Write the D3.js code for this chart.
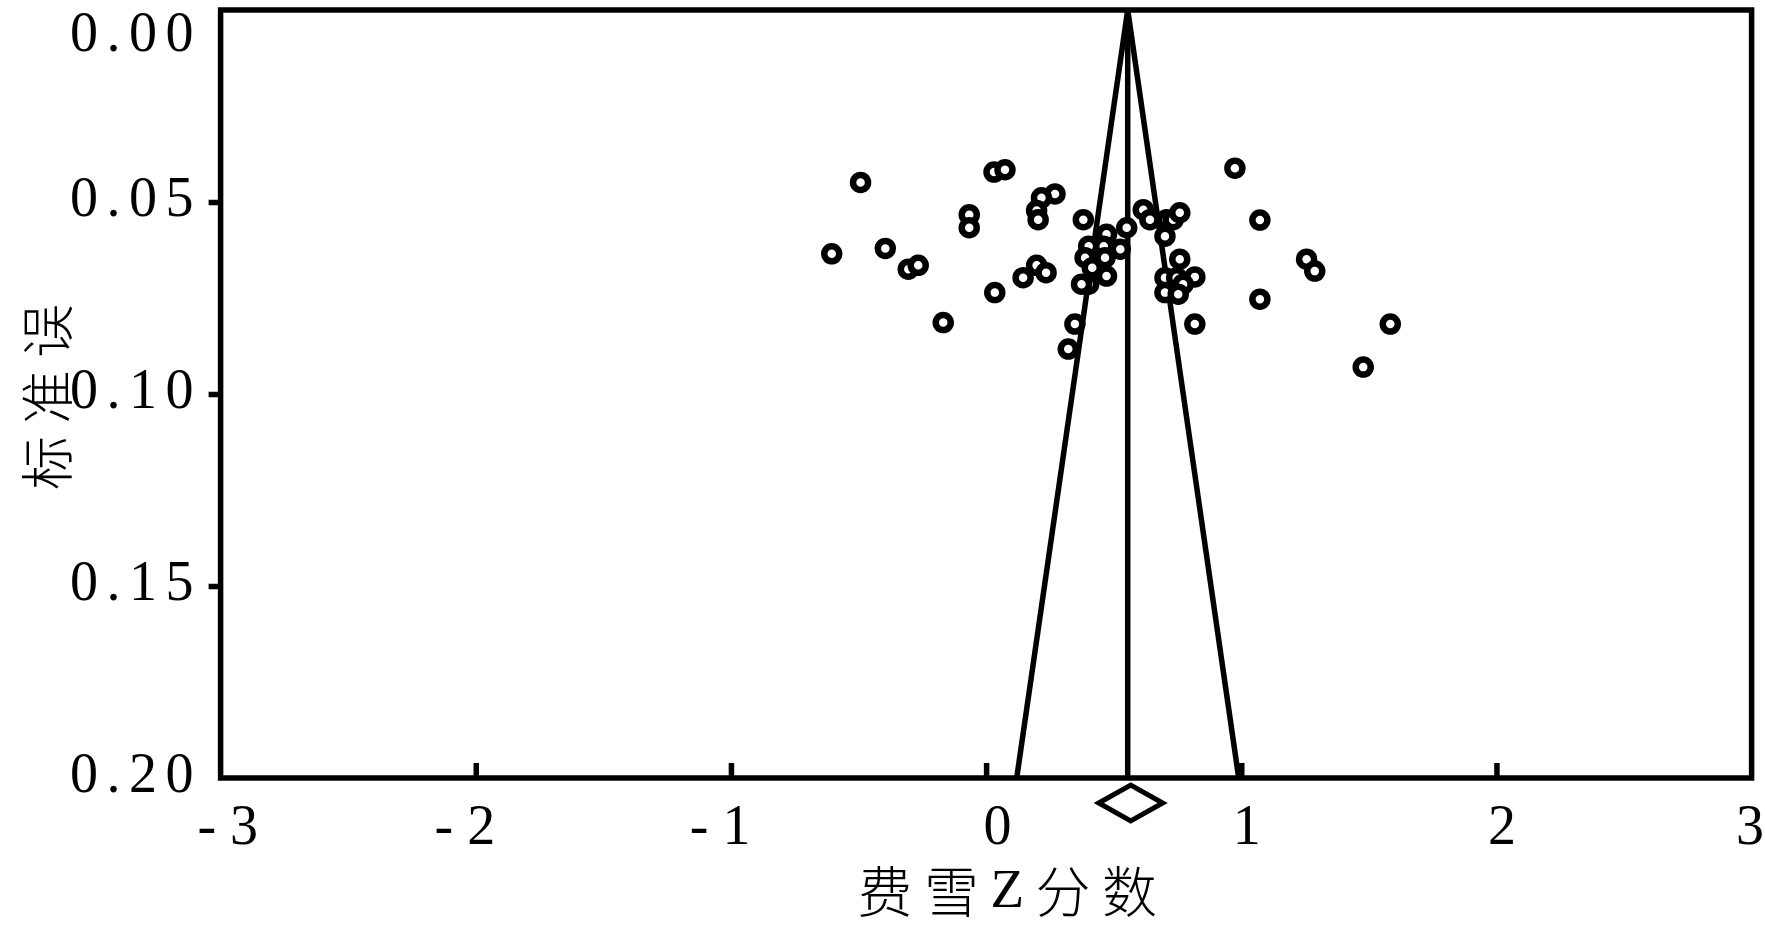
<!DOCTYPE html>
<html>
<head>
<meta charset="utf-8">
<script src="https://cdn.jsdelivr.net/npm/d3@7"></script>
<style>
  html, body { margin: 0; padding: 0; background: #fff; }
  svg { display: block; }
</style>
</head>
<body>
<svg id="chart" width="1765" height="927"></svg>
<script>
// ---------- data ----------
const xTicks = [-3, -2, -1, 0, 1, 2, 3];
const xTickLabels = ["- 3", "- 2", "- 1", "0", "1", "2", "3"];
const yTicks = [0, 0.05, 0.10, 0.15, 0.20];
const yTickLabels = ["0.00", "0.05", "0.10", "0.15", "0.20"];
const xTitle = ["费雪", "Z", "分数"];
const yTitle = "标准误";

// Fisher Z effect sizes and standard errors
const effect = [
  -0.605, -0.492, -0.395, -0.305, -0.266, -0.168, -0.066, -0.066, 0.031, 0.074,
   0.034,  0.145,  0.198,  0.235,  0.270,  0.217,  0.198,  0.204, 0.381, 0.472,
   0.402,  0.461,  0.526,  0.388,  0.466,  0.416,  0.472,  0.402, 0.374, 0.348,
   0.322,  0.551,  0.616,  0.642,  0.707,  0.733,  0.759,  0.701, 0.759, 0.701,
   0.747,  0.818,  0.772,  0.701,  0.753,  0.818,  0.975,  1.073, 1.256, 1.288,
   1.073,  1.584,  1.478
];
const stdErr = [
  0.0635, 0.0449, 0.0621, 0.0675, 0.0665, 0.0814, 0.0533, 0.0567, 0.0422, 0.0416,
  0.0736, 0.0697, 0.0665, 0.0684, 0.0479, 0.0489, 0.0522, 0.0546, 0.0546, 0.0584,
  0.0615, 0.0615, 0.0623, 0.0645, 0.0645, 0.0671, 0.0693, 0.0714, 0.0714, 0.0818,
  0.0883, 0.0567, 0.0520, 0.0546, 0.0546, 0.0546, 0.0528, 0.0589, 0.0649, 0.0697,
  0.0697, 0.0695, 0.0714, 0.0736, 0.0740, 0.0818, 0.0412, 0.0547, 0.0649, 0.0680,
  0.0753, 0.0818, 0.0930
];
const pooled = 0.555;
const funnelSE = [0, 0.20];
const funnelLeft = [0.555, 0.12];
const funnelRight = [0.555, 0.99];

(function draw() {
  const svg = d3.select("#chart");
  const pL = 220.6, pR = 1751.6, pT = 10, pB = 778;
  const x = d3.scaleLinear().domain([-3, 3]).range([pL, pR]);
  const y = d3.scaleLinear().domain([0, 0.20]).range([pT, pB]);
  const LW = 5.5;
  const numFont = "'Liberation Serif', 'Times New Roman', serif";
  const cjkFont = "'Noto Sans CJK SC', sans-serif";

  // frame
  svg.append("rect")
    .attr("x", x(-3)).attr("y", y(0))
    .attr("width", x(3) - x(-3)).attr("height", y(0.2) - y(0))
    .attr("fill", "none").attr("stroke", "#000").attr("stroke-width", LW);

  // y axis
  const yAxis = svg.append("g")
    .attr("transform", `translate(${pL},0)`)
    .call(d3.axisLeft(y).tickValues(yTicks)
      .tickFormat((d, i) => yTickLabels[i]).tickSize(12).tickPadding(6.6));
  yAxis.select(".domain").remove();
  yAxis.selectAll(".tick line").attr("stroke", "#000").attr("stroke-width", LW)
    .filter((d, i) => i === 0 || i === yTicks.length - 1).remove();
  yAxis.selectAll(".tick text")
    .attr("fill", "#000")
    .style("font-family", numFont).style("font-size", "56px")
    .style("letter-spacing", "8.5px")
    .attr("dy", (d, i) => i === 0 ? 40 : 13);

  // x axis (ticks pointing inward)
  const xAxis = svg.append("g")
    .attr("transform", `translate(0,${pB})`)
    .call(d3.axisBottom(x).tickValues(xTicks)
      .tickFormat((d, i) => xTickLabels[i]).tickSize(-15));
  xAxis.select(".domain").remove();
  xAxis.selectAll(".tick line").attr("stroke", "#000").attr("stroke-width", LW)
    .filter((d, i) => i === 0 || i === xTicks.length - 1).remove();
  xAxis.selectAll(".tick text")
    .attr("fill", "#000")
    .style("font-family", numFont).style("font-size", "56px")
    .attr("text-anchor", "end")
    .attr("y", 66).attr("dy", 0)
    .attr("x", (d, i) => i === 0 ? 37 : (i === xTicks.length - 1 ? 12 : (d === 0 ? 25 : 19)));

  // funnel lines
  const line = d3.line().x(d => x(d[0])).y(d => y(d[1]));
  svg.append("path")
    .attr("d", line(funnelSE.map((s, i) => [funnelLeft[i], s])))
    .attr("fill", "none").attr("stroke", "#000").attr("stroke-width", LW);
  svg.append("path")
    .attr("d", line(funnelSE.map((s, i) => [funnelRight[i], s])))
    .attr("fill", "none").attr("stroke", "#000").attr("stroke-width", LW);
  // pooled estimate vertical line
  svg.append("path")
    .attr("d", line([[pooled, 0], [pooled, 0.2]]))
    .attr("fill", "none").attr("stroke", "#000").attr("stroke-width", LW);

  // points
  svg.append("g").selectAll("circle")
    .data(effect.map((e, i) => [e, stdErr[i]]))
    .join("circle")
    .attr("cx", d => x(d[0])).attr("cy", d => y(d[1]))
    .attr("r", 7.5)
    .attr("fill", "#fff").attr("stroke", "#000").attr("stroke-width", 6.5);

  // summary diamond under the axis
  const cx = x(pooled) + 3, cy = pB + 25, hw = 32, hh = 18;
  svg.append("path")
    .attr("d", `M${cx - hw},${cy}L${cx},${cy - hh}L${cx + hw},${cy}L${cx},${cy + hh}Z`)
    .attr("fill", "#fff").attr("stroke", "#000").attr("stroke-width", 5)
    .attr("stroke-linejoin", "miter");

  // axis titles
  const xt = svg.append("text")
    .attr("x", 1013).attr("y", 888)
    .attr("text-anchor", "middle").attr("dominant-baseline", "central")
    .style("font-size", "55px").style("letter-spacing", "11.5px")
    .style("font-family", cjkFont).style("font-weight", 300).attr("fill", "#000");
  xt.selectAll("tspan").data(xTitle).join("tspan")
    .style("font-family", d => d === "Z" ? numFont : cjkFont)
    .text(d => d);

  svg.append("text")
    .attr("transform", "translate(44,391) rotate(-90)")
    .attr("text-anchor", "middle").attr("dominant-baseline", "central")
    .style("font-size", "54px").style("letter-spacing", "12px")
    .style("font-family", cjkFont).style("font-weight", 300).attr("fill", "#000")
    .text(yTitle);
})();
</script>
</body>
</html>
